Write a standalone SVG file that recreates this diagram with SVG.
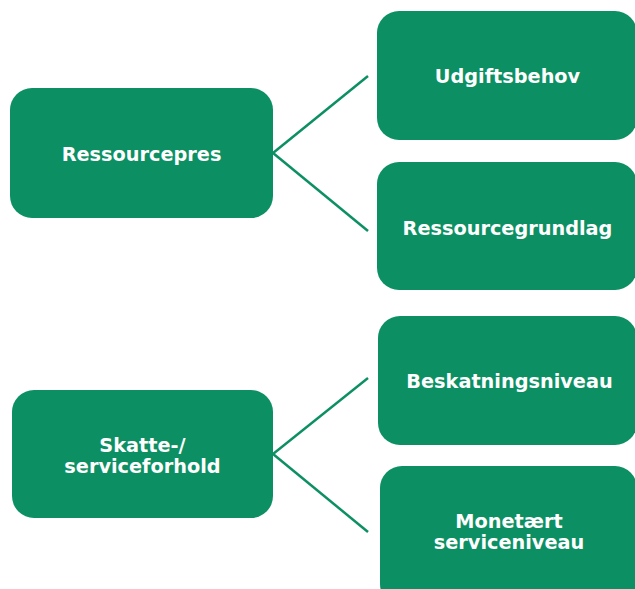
<svg xmlns="http://www.w3.org/2000/svg" width="635" height="589" viewBox="0 0 635 589">
<style>
.box{fill:#0C9063;}
.lbl{fill:#ffffff;font-family:"DejaVu Sans",Verdana,sans-serif;font-weight:bold;font-size:19.3px;text-anchor:middle;}
.conn{stroke:#0C9063;stroke-width:2.5;fill:none;}
</style>
<rect width="635" height="589" fill="#ffffff"/>
<g id="connectors">
<line class="conn" x1="273" y1="153" x2="368" y2="76"/>
<line class="conn" x1="273" y1="153" x2="368" y2="231"/>
<line class="conn" x1="273" y1="454" x2="368" y2="378"/>
<line class="conn" x1="273" y1="454" x2="368" y2="532"/>
</g>
<g id="ressourcepres">
<rect class="box" x="10" y="88" width="263" height="130" rx="22"/>
<text class="lbl" x="141.5" y="161">Ressourcepres</text>
</g>
<g id="udgiftsbehov">
<rect class="box" x="377" y="11" width="260" height="129" rx="22"/>
<text class="lbl" x="507.5" y="83">Udgiftsbehov</text>
</g>
<g id="ressourcegrundlag">
<rect class="box" x="377" y="162" width="260" height="128" rx="22"/>
<text class="lbl" x="507.5" y="235">Ressourcegrundlag</text>
</g>
<g id="skatte">
<rect class="box" x="12" y="390" width="261" height="128" rx="22"/>
<text class="lbl" x="142.5" y="452">Skatte-/</text>
<text class="lbl" x="142.5" y="473">serviceforhold</text>
</g>
<g id="beskatningsniveau">
<rect class="box" x="378" y="316" width="259" height="129" rx="22"/>
<text class="lbl" x="509.5" y="388">Beskatningsniveau</text>
</g>
<g id="monetaert">
<rect class="box" x="380" y="466" width="257" height="140" rx="22"/>
<text class="lbl" x="509" y="528">Monetært</text>
<text class="lbl" x="509" y="549">serviceniveau</text>
</g>
</svg>
